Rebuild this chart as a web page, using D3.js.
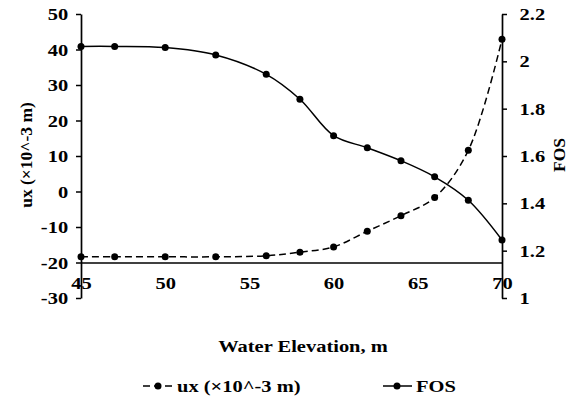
<!DOCTYPE html>
<html>
<head>
<meta charset="utf-8">
<script src="https://cdn.jsdelivr.net/npm/d3@7"></script>
<style>
  body { margin: 0; background: #fff; }
</style>
</head>
<body>
<script>
// data
var elevation = [45, 47, 50, 53, 56, 58, 60, 62, 64, 66, 68, 70];
var ux = [-18.4, -18.4, -18.4, -18.4, -18.1, -17.1, -15.6, -11.2, -6.8, -1.7, 11.6, 42.9];
var fos = [2.063, 2.063, 2.058, 2.027, 1.945, 1.84, 1.686, 1.635, 1.58, 1.512, 1.413, 1.245];
var uxTicks = [50, 40, 30, 20, 10, 0, -10, -20, -30];
var fosTicks = [2.2, 2, 1.8, 1.6, 1.4, 1.2, 1];
var xTicks = [45, 50, 55, 60, 65, 70];

var serif = "'Liberation Serif', 'Times New Roman', serif";
var wide = "scale(1.17,1)"; // original picture is stretched sideways a bit

var svg = d3.select("body").append("svg")
    .attr("width", 576)
    .attr("height", 400);

var x = d3.scaleLinear().domain([45, 70]).range([81, 502]);
var yL = d3.scaleLinear().domain([-30, 50]).range([298, 14]);
var yR = d3.scaleLinear().domain([1, 2.2]).range([298, 14]);

function plain(d) { return String(d); } // keep hyphen minus like the original

// x axis line sits at ux = -20
var xAxis = svg.append("g")
    .attr("transform", "translate(0," + yL(-20) + ")")
    .call(d3.axisBottom(x).tickValues(xTicks).tickSize(0).tickPadding(14.5).tickFormat(plain));
xAxis.select(".domain").attr("stroke", "#000").attr("stroke-width", 1.5);

var leftAxis = svg.append("g")
    .attr("transform", "translate(" + x(45) + ",0)")
    .call(d3.axisLeft(yL).tickValues(uxTicks).tickSize(5).tickSizeOuter(0).tickPadding(6).tickFormat(plain));
leftAxis.select(".domain").attr("stroke-width", 1.7);
leftAxis.selectAll("line").attr("stroke-width", 1.5);

var rightAxis = svg.append("g")
    .attr("transform", "translate(" + x(70) + ",0)")
    .call(d3.axisRight(yR).tickValues(fosTicks).tickSize(5).tickSizeOuter(0).tickPadding(10).tickFormat(plain));
rightAxis.select(".domain").attr("stroke-width", 1.7);
rightAxis.selectAll("line").attr("stroke-width", 1.5);

svg.selectAll(".tick text").attr("transform", wide);

// lines
var uxLine = d3.line()
    .x(function(d, i) { return x(elevation[i]); })
    .y(function(d) { return yL(d); })
    .curve(d3.curveCatmullRom);

var fosLine = d3.line()
    .x(function(d, i) { return x(elevation[i]); })
    .y(function(d) { return yR(d); })
    .curve(d3.curveCatmullRom);

svg.append("path")
    .datum(ux)
    .attr("d", uxLine)
    .attr("fill", "none")
    .attr("stroke", "#000")
    .attr("stroke-width", 1.5)
    .attr("stroke-dasharray", "7,4");

svg.append("path")
    .datum(fos)
    .attr("d", fosLine)
    .attr("fill", "none")
    .attr("stroke", "#000")
    .attr("stroke-width", 1.5);

svg.selectAll("circle.ux")
    .data(ux)
    .enter().append("circle")
        .attr("class", "ux")
        .attr("cx", function(d, i) { return x(elevation[i]); })
        .attr("cy", function(d) { return yL(d); })
        .attr("r", 3.5);

svg.selectAll("circle.fos")
    .data(fos)
    .enter().append("circle")
        .attr("class", "fos")
        .attr("cx", function(d, i) { return x(elevation[i]); })
        .attr("cy", function(d) { return yR(d); })
        .attr("r", 3.5);

// titles
svg.append("text")
    .attr("transform", "translate(32,155) rotate(-90)")
    .attr("text-anchor", "middle")
    .text("ux (×10^-3 m)");

svg.append("text")
    .attr("transform", "translate(565,155) rotate(-90)")
    .attr("text-anchor", "middle")
    .text("FOS");

svg.append("text")
    .attr("transform", "translate(303,352) " + wide)
    .attr("text-anchor", "middle")
    .text("Water Elevation, m");

// legend
var lg = svg.append("g");
lg.append("line").attr("x1", 143).attr("x2", 173).attr("y1", 386).attr("y2", 386)
    .attr("stroke", "#000").attr("stroke-width", 1.5).attr("stroke-dasharray", "7,4");
lg.append("circle").attr("cx", 158).attr("cy", 386).attr("r", 3.5);
lg.append("text").attr("transform", "translate(177,392) " + wide).text("ux (×10^-3 m)");

lg.append("line").attr("x1", 383).attr("x2", 412).attr("y1", 386).attr("y2", 386)
    .attr("stroke", "#000").attr("stroke-width", 1.5);
lg.append("circle").attr("cx", 397).attr("cy", 386).attr("r", 3.5);
lg.append("text").attr("transform", "translate(416,392) " + wide).text("FOS");

// all text in bold Times-like serif
svg.selectAll("text")
    .style("font-family", serif)
    .style("font-weight", "bold")
    .style("font-size", "17.5px")
    .attr("fill", "#000");
</script>
</body>
</html>
